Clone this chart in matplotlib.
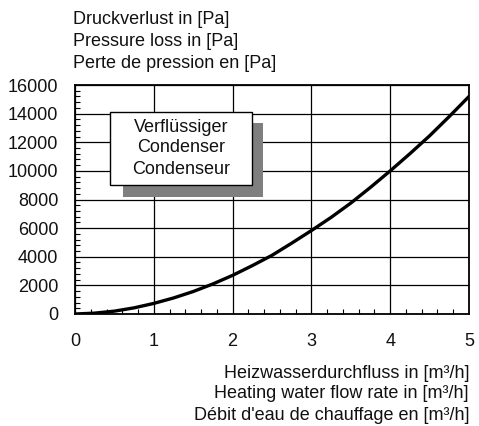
import matplotlib
matplotlib.use("Agg")
import matplotlib.pyplot as plt
from matplotlib.patches import Rectangle
from matplotlib.ticker import MultipleLocator

plt.rcParams["font.family"] = ["Liberation Sans", "DejaVu Sans"]

# flow rate [m3/h] and pressure loss [Pa]
flow = [0, 0.25, 0.5, 0.75, 1.0, 1.25, 1.5, 1.75, 2.0, 2.25, 2.5,
        2.75, 3.0, 3.25, 3.5, 3.75, 4.0, 4.25, 4.5, 4.75, 5.0]
pressure = [0, 60, 200, 430, 740, 1120, 1570, 2100, 2700, 3380, 4100,
            4950, 5830, 6750, 7750, 8850, 10000, 11200, 12450, 13800, 15200]

x_ticks = [0, 1, 2, 3, 4, 5]
y_ticks = [0, 2000, 4000, 6000, 8000, 10000, 12000, 14000, 16000]

y_title = ["Druckverlust in [Pa]", "Pressure loss in [Pa]", "Perte de pression en [Pa]"]
x_title = ["Heizwasserdurchfluss in [m³/h]", "Heating water flow rate in [m³/h]",
           "Débit d'eau de chauffage en [m³/h]"]
box_lines = ["Verflüssiger", "Condenser", "Condenseur"]

W, H = 479, 426
fig = plt.figure(figsize=(W / 100, H / 100), dpi=100)
ax = fig.add_axes([75 / W, 1 - 314 / H, 394 / W, 229 / H])

ax.plot(flow, pressure, color="black", lw=2.4, solid_capstyle="round", zorder=4)

ax.set_xlim(0, 5)
ax.set_ylim(0, 16000)
ax.set_xticks(x_ticks)
ax.set_yticks(y_ticks)
ax.xaxis.set_minor_locator(MultipleLocator(0.2))
ax.yaxis.set_minor_locator(MultipleLocator(400))
ax.grid(True, which="major", color="black", lw=0.9)
ax.set_axisbelow(True)
ax.tick_params(which="major", length=0, labelsize=13, colors="#111111")
ax.tick_params(axis="x", which="major", pad=14)
ax.tick_params(axis="y", which="major", pad=12)
ax.tick_params(which="minor", direction="in", length=3.5, width=0.8)
for s in ax.spines.values():
    s.set_linewidth(1.3)

# label box with drop shadow
ax.add_patch(Rectangle((0.122, 0.511), 0.355, 0.323, transform=ax.transAxes,
                       facecolor="#7f7f7f", edgecolor="none", zorder=5))
ax.add_patch(Rectangle((0.089, 0.563), 0.36, 0.319, transform=ax.transAxes,
                       facecolor="white", edgecolor="black", lw=1.0, zorder=6))
for i, t in enumerate(box_lines):
    fig.text(181 / W, 1 - (127 + 21 * i) / H, t, ha="center", va="center",
             fontsize=13, color="#111111", zorder=7)

for i, t in enumerate(y_title):
    fig.text(73 / W, 1 - (20 + 21.5 * i) / H, t, ha="left", va="center",
             fontsize=13, color="#111111")
for i, t in enumerate(x_title):
    fig.text(469 / W, 1 - (373 + 21 * i) / H, t, ha="right", va="center",
             fontsize=13, color="#111111")

fig.savefig("out.png", dpi=100)
